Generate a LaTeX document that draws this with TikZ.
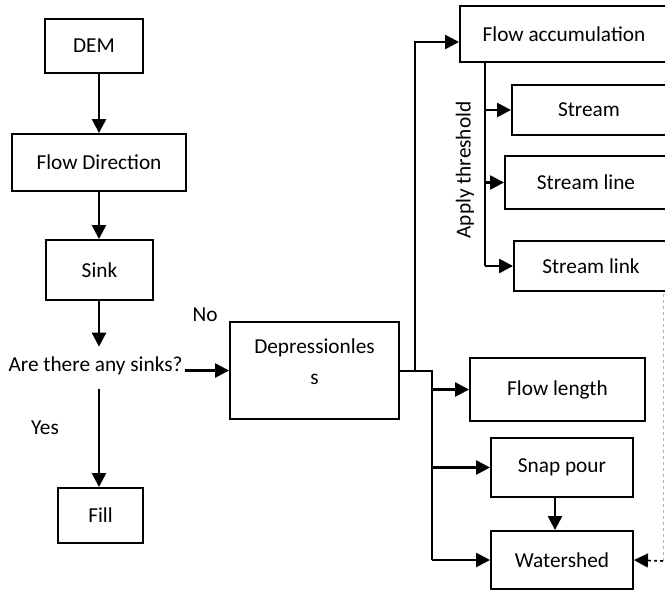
\documentclass[tikz,border=0pt]{standalone}
\usepackage{fontspec}
\setmainfont{Carlito}
\usetikzlibrary{arrows.meta}

\begin{document}
\begin{tikzpicture}[x = 1pt, y = -1pt, % one unit = one pixel, y down
                > = {Triangle[length = 14pt, width = 14pt]}, % arrow head style
                font = \fontsize{21.3}{26}\selectfont
            ]

            \tikzstyle{every node}=[inner sep = 0pt]
            \tikzstyle{box}=[draw = black, line width = 1.9pt, rectangle]
            \tikzstyle{link}=[line width = 2.5pt]

            \useasboundingbox (0,0) rectangle (665,590);

            % left column
            \node[box, minimum width = 98pt, minimum height = 54pt] (dem) at (94,46) {DEM};
            \node[box, minimum width = 174pt, minimum height = 57pt] (fd) at (99,162.5) {Flow Direction};
            \node[box, minimum width = 107pt, minimum height = 60pt] (sink) at (99.5,270) {Sink};
            \node (q) at (95.5,366) {Are there any sinks?};
            \node[box, minimum width = 85pt, minimum height = 55pt] (fill) at (100.5,515.5) {Fill};
            \node (yes) at (45,428) {Yes};
            \node (no) at (205,315) {No};

            % middle
            \node[box, minimum width = 169pt, minimum height = 97pt, align = center] (dep) at (314.5,370.5)
                {Depressionles\\[5pt]s\\[-8pt]\mbox{}};

            % right column
            \node[box, minimum width = 208pt, minimum height = 56pt] (fa) at (564,34) {Flow accumulation};
            \node[box, minimum width = 154pt, minimum height = 50pt] (st) at (589,110) {Stream};
            \node[box, minimum width = 162pt, minimum height = 53pt] (sln) at (586,182.5) {Stream line};
            \node[box, minimum width = 154pt, minimum height = 50pt] (slk) at (591,266) {Stream link};
            \node[rotate = 90] (thr) at (465,170) {Apply threshold};
            \node[box, minimum width = 175pt, minimum height = 63pt] (fl) at (557.5,389.5) {Flow length};
            \node[box, minimum width = 142pt, minimum height = 59pt] (sp) at (562,467.5) {Snap pour};
            \node[box, minimum width = 142pt, minimum height = 58pt] (ws) at (562,560) {Watershed};

            \coordinate (b1) at (415,371);
            \coordinate (b2) at (432,371);
            \coordinate (b3) at (485,62);
            \coordinate (dc) at (663,561);

            \draw[link, ->] (dem.south -| fd.north) -- (fd.north);
            \draw[link, ->] (fd.south) -- (fd.south |- sink.north);
            \draw[link, ->] (sink.south -| fd) -- ([yshift = 10pt]q.north -| fd);
            \draw[link, ->] ([yshift = -14pt]q.south -| fd) -- (fd |- fill.north);
            \draw[link, ->] ([xshift = 2pt]q.east |- dep.west) -- (dep.west);

            \draw[link] (dep.east |- b2) -- (b2) -- (b2 |- ws);
            \draw[link, ->] (b1) |- ([yshift = -8pt]fa.west);
            \draw[link] (b3) -- (b3 |- slk);
            \draw[link, ->] (b3 |- st) -- (st.west);
            \draw[link, ->] (b3 |- sln) -- (sln.west);
            \draw[link, ->] (b3 |- slk) -- (slk.west);

            \draw[link, ->] (b2 |- fl) -- (fl.west);
            \draw[link, ->] (b2 |- sp) -- (sp.west);
            \draw[link, ->] (b2 |- ws) -- (ws.west);
            \draw[link, ->] (sp.south -| 555,0) -- (ws.north -| 555,0);

            \draw[gray!60, dashed, line width = 1pt] ([yshift = -2pt]slk.south -| dc) -- (dc);
            \draw[line width = 1.6pt, dashed, ->] (dc) -- (ws.east);
        \end{tikzpicture}
\end{document}
